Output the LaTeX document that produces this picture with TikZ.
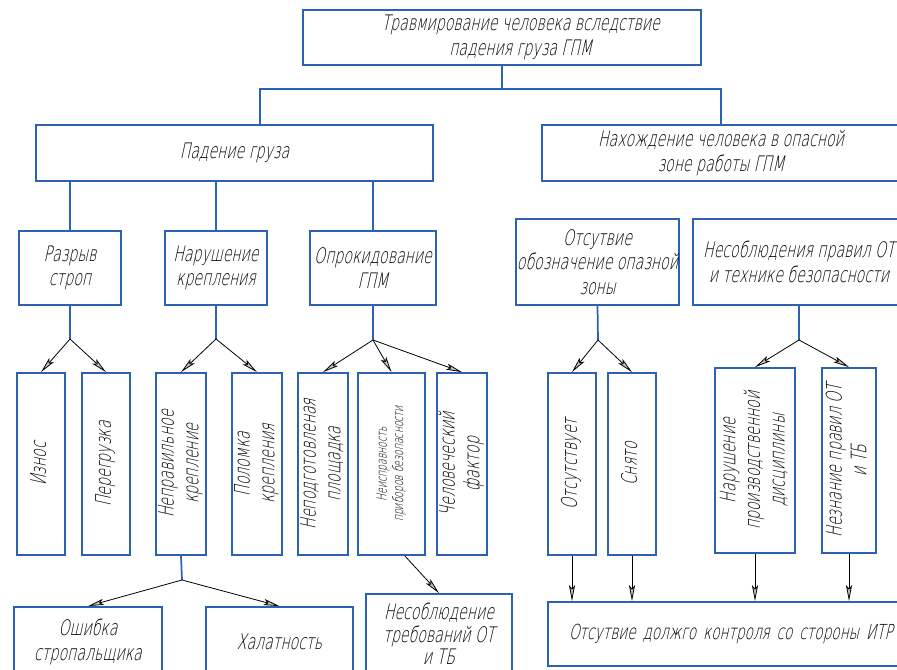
\documentclass[tikz,border=0pt]{standalone}
\usepackage{fontspec}
\usepackage{graphicx}
\newfontfamily\gost{DejaVu Sans ExtraLight}[FakeStretch=0.66,FakeSlant=0.22]
\usetikzlibrary{arrows.meta}
\definecolor{boxblue}{RGB}{44,98,178}
\newcommand\vtext[1]{\rotatebox{90}{\begin{tabular}{@{}c@{}}#1\end{tabular}}}

\begin{document}
\begin{tikzpicture}[x=0.75pt,y=0.75pt,yscale=-1,xscale=1,
  font=\gost\fontsize{16}{18.5}\selectfont,
  box/.style 2 args={draw=boxblue,line width=1.3pt,rectangle,align=center,inner sep=0pt,minimum width=#1*0.75pt,minimum height=#2*0.75pt},
  link/.style={draw=boxblue,line width=1.3pt},
  arr/.style={draw=black,line width=0.6pt,-{Stealth[length=12pt,width=4.6pt,inset=2.5pt,fill=gray!45]}}]
\useasboundingbox (0,0) rectangle (897,670);
\clip (0,0) rectangle (897,670);

%Top event
\node[box={398}{55}] (top) at (502,37.5) {\hspace*{28pt}Травмирование человека вследствие\\\hspace*{28pt}падения груза ГПМ};

%Second level
\node[box={397}{56}] (fall) at (234.5,153) {Падение груза};
\node[box={358}{56}] (zone) at (721,153) {Нахождение человека в опасной\\зоне работы ГПМ};

%Third level
\node[box={102}{74}] (brk) at (70,268) {Разрыв\\строп};
\node[box={102}{74}] (mnt) at (216,268) {Нарушение\\крепления};
\node[box={126}{74}] (tip) at (373,268) {Опрокидование\\ГПМ};
\node[box={163}{86}] (nosign) at (597.5,262) {Отсутвие\\обозначение опазной\\зоны};
\node[box={212}{86}] (rules) at (799,262) {Несоблюдения правил ОТ\\и технике безопасности};

%Fourth level (vertical text)
\node[box={48}{182}] (wear) at (41,464) {\vtext{Износ}};
\node[box={48}{182}] (ovl) at (106,464) {\vtext{Перегрузка}};
\node[box={48}{182}] (wrong) at (181,464) {\vtext{Неправильное\\крепление}};
\node[box={48}{182}] (broken) at (257,464) {\vtext{Поломка\\крепления}};
\node[box={48}{182}] (site) at (323,464) {\vtext{Неподготовленая\\площадка}};
\node[box={67}{182}] (device) at (391.5,464) {\fontsize{10.5}{12.5}\selectfont\vtext{Неисправность\\приборов безопасности}};
\node[box={48}{182}] (human) at (462,464) {\vtext{Человеческий\\фактор}};
\node[box={48}{182}] (absent) at (572,464) {\vtext{Отсутствует}};
\node[box={48}{182}] (removed) at (632,464) {\vtext{Снято}};
\node[box={80}{185}] (discip) at (755,460.5) {\vtext{Нарушение\\производственной\\дисциплины}};
\node[box={54}{185}] (ignor) at (849,460.5) {\vtext{Незнание правил ОТ\\и ТБ}};

%Bottom level
\node[box={148}{70}] (sling) at (88,642) {Ошибка\\стропальщика};
\node[box={147}{70}] (negl) at (279.5,642) {Халатность};
\node[box={146}{80},font=\gost\fontsize{16}{17}\selectfont] (reqs) at (439,634) {Несоблюдение\\требований ОТ\\и ТБ};
\node[box={382}{64},text width=340*0.75pt,align=left,font=\gost\fontsize{15.5}{18}\selectfont] (ctrl) at (739,634) {Отсутвие должго контроля со стороны ИТР};

%Junction points
\coordinate (tj) at (502,89);
\coordinate (tl) at (260,89);
\coordinate (j1) at (70,339);
\coordinate (j2) at (216,339);
\coordinate (j3) at (373,340);
\coordinate (j4) at (598,340);
\coordinate (j5) at (799,340);
\coordinate (j6) at (182,580);

%Blue links
\draw[link] (top.south) -- (tj);
\draw[link] (tl |- fall.north) -- (tl) -- (tj) -| (zone.north);
\draw[link] (brk.north) -- (brk.north |- fall.south);
\draw[link] (mnt.north) -- (mnt.north |- fall.south);
\draw[link] (tip.north) -- (tip.north |- fall.south);
\draw[link] (brk.south) -- (j1);
\draw[link] (mnt.south) -- (j2);
\draw[link] (tip.south) -- (j3);
\draw[link] (nosign.south) -- (j4);
\draw[link] (rules.south) -- (j5);
\draw[link] (wrong.south) -- (j6);

%Arrows
\draw[arr] (j1) -- (wear.north);
\draw[arr] (j1) -- (ovl.north);
\draw[arr] (j2) -- (wrong.north);
\draw[arr] (j2) -- (broken.north);
\draw[arr] (j3) -- (site.north);
\draw[arr] (j3) -- (device.north);
\draw[arr] (j3) -- (human.north);
\draw[arr] (j4) -- (absent.north);
\draw[arr] (j4) -- (removed.north);
\draw[arr] (j5) -- (discip.north);
\draw[arr] (j5) -- (ignor.north);
\draw[arr] (j6) -- (sling.north);
\draw[arr] (j6) -- (negl.north);
\draw[arr] ([xshift=10pt]device.south) -- (reqs.north);
\draw[arr] (absent.south) -- (absent.south |- ctrl.north);
\draw[arr] (removed.south) -- (removed.south |- ctrl.north);
\draw[arr] (discip.south) -- (discip.south |- ctrl.north);
\draw[arr] (ignor.south) -- (ignor.south |- ctrl.north);

\end{tikzpicture}
\end{document}
